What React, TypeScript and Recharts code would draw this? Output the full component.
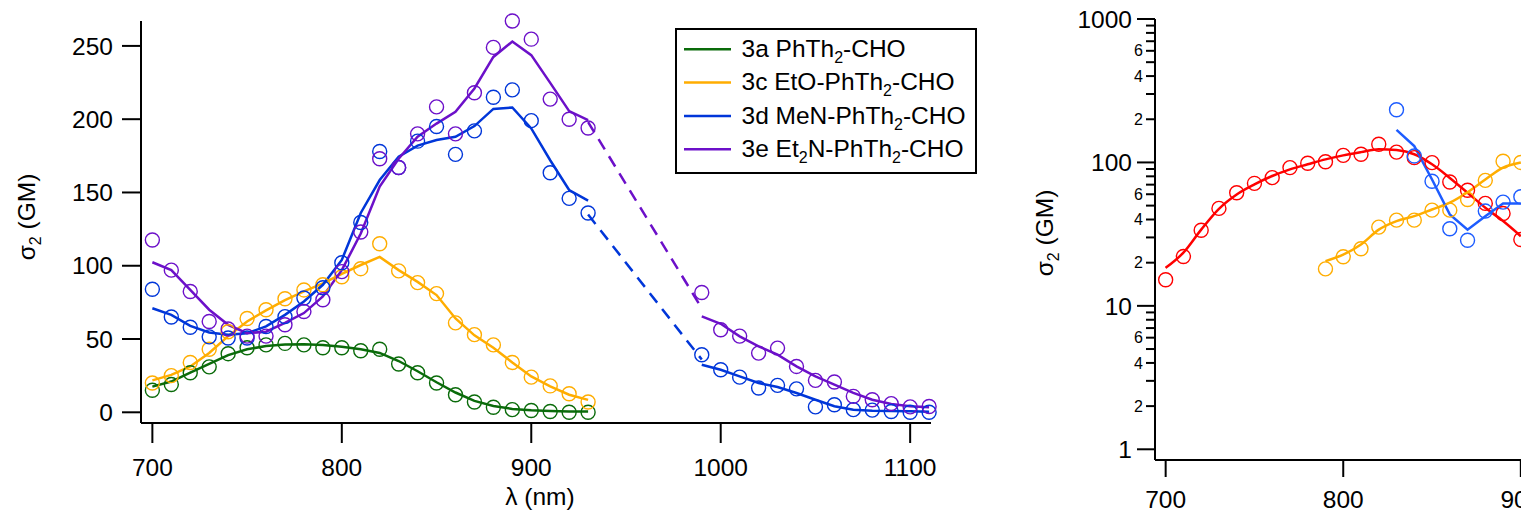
import React from 'react';
import { ComposedChart, Line, Scatter, XAxis, YAxis, Legend } from 'recharts';

const FONT = "'Liberation Sans', Arial, Helvetica, sans-serif";

// ---------- Left panel (linear) ----------
const lambdaVis = [700, 710, 720, 730, 740, 750, 760, 770, 780, 790, 800, 810, 820, 830, 840, 850, 860, 870, 880, 890, 900, 910, 920, 930];
const lambdaNir = [990, 1000, 1010, 1020, 1030, 1040, 1050, 1060, 1070, 1080, 1090, 1100, 1110];
const lambdaGap = [930, 990];

const pts3a = [15, 19, 27, 31, 40, 44, 46, 47, 46, 44, 44, 42, 43, 33, 27, 20, 12, 7, 3.4, 1.8, 1.2, 0.5, 0, 0];
const fit3a = [17.5, 21, 27, 33, 39, 43, 45.2, 46.3, 46.5, 46, 44.8, 43, 40.5, 35, 28, 20.5, 13.5, 7.8, 4.3, 2.3, 1.4, 0.9, 0.6, 0.5];

const pts3c = [20, 25, 34, 43, 55, 64, 70, 77.5, 83.5, 87, 92.5, 98, 115, 96.5, 88.5, 81, 61, 53, 46, 34, 24, 18, 12.7, 7];
const fit3c = [21.8, 25.5, 31.3, 40.5, 52, 62, 69.5, 76.5, 82.5, 88, 94.5, 100.5, 106, 97, 89, 80, 64, 52.5, 44, 34, 24.5, 17.7, 12, 8.5];

const pts3dVis = [84, 65, 58, 51.5, 50.7, 50.7, 58.5, 65.3, 78, 85, 102, 129.5, 178, 167, 185, 195, 176, 192, 215, 220, 199, 163.5, 146, 136];
const fit3dVis = [71, 66.5, 59, 54.5, 53, 54, 58.6, 66.5, 75.6, 87, 104, 136, 158.5, 174.4, 182, 185.8, 188, 195.3, 207, 208, 193.7, 172, 151.7, 144.4];
const pts3dNir = [39.3, 29, 24, 16.6, 18.4, 16, 3.7, 5.2, 1.8, 1.5, 0.5, 0, 0];
const fit3dNir = [32.5, 29, 24.5, 20, 17.3, 13.2, 8.6, 4.1, 1.8, 1.1, 0.9, 0.7, 0.4];
const gap3d = [135, 36];

const pts3eVis = [117.6, 97, 82.4, 62, 56.8, 52, 52, 59.7, 68.8, 76.8, 96, 123, 173, 167, 190, 208.4, 190, 218, 249, 267, 254.6, 213.7, 200, 194];
const fit3eVis = [102.4, 97, 83.6, 70, 59.7, 54, 55, 61, 67.7, 79, 97, 122, 154, 173, 188, 197, 205, 221, 242.5, 253, 243.7, 224.8, 205.5, 199.4];
const pts3eNir = [81.7, 56.3, 52, 40.4, 43.8, 31.3, 21.8, 20.7, 10.9, 8.6, 5.9, 3.7, 4];
const fit3eNir = [65.4, 60.4, 51.8, 45, 39.3, 31.3, 24.5, 18.9, 13.2, 8.6, 5.7, 4.1, 3.4];
const gap3e = [198, 71];

const xTicksMain = [700, 800, 900, 1000, 1100];
const yTicksMain = [0, 50, 100, 150, 200, 250];

const legendNames = [
  [['3a PhTh', false], ['2', true], ['-CHO', false]],
  [['3c EtO-PhTh', false], ['2', true], ['-CHO', false]],
  [['3d MeN-PhTh', false], ['2', true], ['-CHO', false]],
  [['3e Et', false], ['2', true], ['N-PhTh', false], ['2', true], ['-CHO', false]],
] as [string, boolean][][];

// ---------- Right panel (log) ----------
const lambdaRed = [700, 710, 720, 730, 740, 750, 760, 770, 780, 790, 800, 810, 820, 830, 840, 850, 860, 870, 880, 890, 900];
const ptsRed = [15.2, 22.1, 33.7, 47.8, 61.5, 71.5, 78.3, 92, 98.6, 101, 112, 114, 134, 118, 108, 99.7, 73, 64, 51.8, 44, 29];
const fitRed = [18.4, 23.5, 34, 47.5, 59.8, 70.3, 80.4, 89.5, 97, 105, 112, 118, 123.6, 122, 114, 97, 78, 61.5, 48.3, 39, 30.6];

const lambdaOrange = [790, 800, 810, 820, 830, 840, 850, 860, 870, 880, 890, 900];
const ptsOrangeR = [18.1, 22, 25, 35.4, 39.6, 39.6, 46.5, 46.5, 55.2, 75, 102, 100];
const fitOrangeR = [20.5, 22.8, 26.8, 34, 39, 42.2, 47, 52.4, 62, 76, 92, 100];

const lambdaBlue = [830, 840, 850, 860, 870, 880, 890, 900];
const ptsBlueR = [233, 111, 74, 34.5, 28.7, 45.8, 52.9, 57.7];
const fitBlueR = [168.5, 130, 76, 43.4, 34, 42.2, 51.8, 51.8];

const xTicksLog = [700, 800, 900, 1000, 1100];
const logMajor = [1, 10, 100, 1000];
const logMinorLabeled = [2, 4, 6];
const logTicks = [1, 2, 3, 4, 5, 6, 7, 8, 9, 10, 20, 30, 40, 50, 60, 70, 80, 90, 100, 200, 300, 400, 500, 600, 700, 800, 900, 1000];

// ---------- colours ----------
const C_GREEN = '#0a6b0a';
const C_ORANGE = '#ffad00';
const C_BLUE = '#0036d9';
const C_PURPLE = '#6c10c9';
const C_RED = '#ff0000';
const C_BLUE2 = '#1d5cff';

const zip = (xs: number[], ys: number[]) => xs.map((x, i) => ({ x, y: ys[i] }));

const ring = (color: string) => (props: any) => (
  <circle cx={props.cx} cy={props.cy} r={7} fill="none" stroke={color} strokeWidth={1.4} />
);

const axisStyle = { stroke: '#000', strokeWidth: 2 };
const tickFont = { fill: '#000', fontSize: 24.5, fontFamily: FONT };

const SigmaTitle = ({ tx, ty }: { tx: number; ty: number }) => (
  <text transform={`translate(${tx},${ty}) rotate(-90)`} textAnchor="middle" fontSize={24.5} fontFamily={FONT} fill="#000">
    <tspan>σ</tspan>
    <tspan fontSize={16} dy={6}>2</tspan>
    <tspan dy={-6}>{' (GM)'}</tspan>
  </text>
);

const LeftYTitle = () => <SigmaTitle tx={35} ty={217} />;
const RightYTitle = () => <SigmaTitle tx={53} ty={233} />;
const LeftXTitle = () => (
  <text x={540} y={505} textAnchor="middle" fontSize={24.5} fontFamily={FONT} fill="#000">λ (nm)</text>
);

const legendColors = [C_GREEN, C_ORANGE, C_BLUE, C_PURPLE];

const LegendBox = () => (
  <svg width={302} height={146} style={{ display: 'block' }}>
    <rect x={1} y={1} width={300} height={144} fill="#fff" stroke="#000" strokeWidth={2} />
    {legendNames.map((parts, i) => {
      const cy = 21.3 + 33.3 * i;
      let shifted = false;
      return (
        <g key={i}>
          <line x1={9} x2={56} y1={cy} y2={cy} stroke={legendColors[i]} strokeWidth={2.5} />
          <text x={66.5} y={cy + 7.8} fontSize={24.5} fontFamily={FONT} fill="#000">
            {parts.map(([t, sub], j) => {
              let dy = 0;
              if (sub && !shifted) { dy = 6; shifted = true; }
              else if (!sub && shifted) { dy = -6; shifted = false; }
              return (
                <tspan key={j} dy={dy} fontSize={sub ? 16 : 24.5}>{t}</tspan>
              );
            })}
          </text>
        </g>
      );
    })}
  </svg>
);

const LogTick = (props: any) => {
  const { x, y, payload } = props;
  const v = payload.value as number;
  const isMajor = logMajor.includes(v);
  const decade = Math.pow(10, Math.floor(Math.log10(v) + 1e-9));
  const lead = Math.round(v / decade);
  const labeled = !isMajor && logMinorLabeled.includes(lead);
  const len = isMajor ? 18 : 9;
  return (
    <g>
      <line x1={x - len} x2={x} y1={y} y2={y} stroke="#000" strokeWidth={2} />
      {isMajor && (
        <text x={x - len - 5} y={y} dy="0.355em" textAnchor="end" fontSize={24.5} fontFamily={FONT} fill="#000">{v}</text>
      )}
      {labeled && (
        <text x={x - len - 3} y={y} dy="0.355em" textAnchor="end" fontSize={16} fontFamily={FONT} fill="#000">{lead}</text>
      )}
    </g>
  );
};

export default function App() {
  return (
    <div style={{ position: 'absolute', left: 0, top: 0, width: 1521, height: 515, overflow: 'hidden', background: '#fff' }}>
      <div style={{ position: 'absolute', left: 0, top: 0 }}>
        <ComposedChart width={960} height={515} margin={{ top: 21, right: 29, bottom: 0, left: 0 }}>
          <XAxis type="number" dataKey="x" domain={[694, 1111]} ticks={xTicksMain} interval={0}
            tickSize={20} tickMargin={16} height={92} axisLine={axisStyle} tickLine={axisStyle} tick={tickFont}
            label={<LeftXTitle />} />
          <YAxis type="number" dataKey="y" domain={[-7.3, 267]} ticks={yTicksMain} interval={0}
            width={141} tickSize={19} tickMargin={9} axisLine={axisStyle} tickLine={axisStyle} tick={tickFont}
            label={<LeftYTitle />} />
          <Legend layout="vertical" align="center" verticalAlign="middle"
            wrapperStyle={{ left: 675, top: 28, width: 302, height: 146 }} content={() => <LegendBox />} />

          <Line data={zip(lambdaVis, fit3a)} dataKey="y" name="3a" stroke={C_GREEN} strokeWidth={2.5} dot={false} activeDot={false} type="linear" isAnimationActive={false} />
          <Line data={zip(lambdaVis, fit3c)} dataKey="y" name="3c" stroke={C_ORANGE} strokeWidth={2.5} dot={false} activeDot={false} type="linear" isAnimationActive={false} />
          <Line data={zip(lambdaVis, fit3dVis)} dataKey="y" name="3d" stroke={C_BLUE} strokeWidth={2.5} dot={false} activeDot={false} type="linear" isAnimationActive={false} />
          <Line data={zip(lambdaNir, fit3dNir)} dataKey="y" name="3d nir" stroke={C_BLUE} strokeWidth={2.5} dot={false} activeDot={false} type="linear" isAnimationActive={false} />
          <Line data={zip(lambdaGap, gap3d)} dataKey="y" name="3d gap" stroke={C_BLUE} strokeWidth={2.5} strokeDasharray="12 8" dot={false} activeDot={false} type="linear" isAnimationActive={false} />
          <Line data={zip(lambdaVis, fit3eVis)} dataKey="y" name="3e" stroke={C_PURPLE} strokeWidth={2.5} dot={false} activeDot={false} type="linear" isAnimationActive={false} />
          <Line data={zip(lambdaNir, fit3eNir)} dataKey="y" name="3e nir" stroke={C_PURPLE} strokeWidth={2.5} dot={false} activeDot={false} type="linear" isAnimationActive={false} />
          <Line data={zip(lambdaGap, gap3e)} dataKey="y" name="3e gap" stroke={C_PURPLE} strokeWidth={2.5} strokeDasharray="12 8" dot={false} activeDot={false} type="linear" isAnimationActive={false} />

          <Scatter data={zip(lambdaVis, pts3a)} dataKey="y" name="3a pts" shape={ring(C_GREEN)} isAnimationActive={false} />
          <Scatter data={zip(lambdaVis, pts3c)} dataKey="y" name="3c pts" shape={ring(C_ORANGE)} isAnimationActive={false} />
          <Scatter data={zip(lambdaVis, pts3dVis).concat(zip(lambdaNir, pts3dNir))} dataKey="y" name="3d pts" shape={ring(C_BLUE)} isAnimationActive={false} />
          <Scatter data={zip(lambdaVis, pts3eVis).concat(zip(lambdaNir, pts3eNir))} dataKey="y" name="3e pts" shape={ring(C_PURPLE)} isAnimationActive={false} />
        </ComposedChart>
      </div>

      <div style={{ position: 'absolute', left: 1000, top: 0 }}>
        <ComposedChart width={876} height={515} margin={{ top: 19, right: 0, bottom: 0, left: 0 }}>
          <XAxis type="number" dataKey="x" domain={[694, 1100]} ticks={xTicksLog} interval={0}
            tickSize={17} tickMargin={14} height={55} axisLine={axisStyle} tickLine={axisStyle} tick={tickFont} />
          <YAxis type="number" dataKey="y" scale="log" domain={[0.842, 1000]} ticks={logTicks} interval={0}
            width={155} tickSize={0} tickMargin={0} axisLine={axisStyle} tickLine={false} tick={<LogTick />}
            label={<RightYTitle />} />

          <Line data={zip(lambdaRed, fitRed)} dataKey="y" name="red" stroke={C_RED} strokeWidth={2.5} dot={false} activeDot={false} type="monotone" isAnimationActive={false} />
          <Line data={zip(lambdaOrange, fitOrangeR)} dataKey="y" name="orange" stroke={C_ORANGE} strokeWidth={2.5} dot={false} activeDot={false} type="monotone" isAnimationActive={false} />
          <Line data={zip(lambdaBlue, fitBlueR)} dataKey="y" name="blue" stroke={C_BLUE2} strokeWidth={2.5} dot={false} activeDot={false} type="linear" isAnimationActive={false} />

          <Scatter data={zip(lambdaRed, ptsRed)} dataKey="y" name="red pts" shape={ring(C_RED)} isAnimationActive={false} />
          <Scatter data={zip(lambdaOrange, ptsOrangeR)} dataKey="y" name="orange pts" shape={ring(C_ORANGE)} isAnimationActive={false} />
          <Scatter data={zip(lambdaBlue, ptsBlueR)} dataKey="y" name="blue pts" shape={ring(C_BLUE2)} isAnimationActive={false} />
        </ComposedChart>
      </div>
    </div>
  );
}
